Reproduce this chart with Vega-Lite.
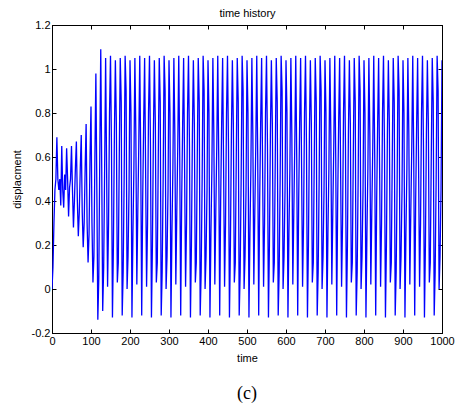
{
"$schema": "https://vega.github.io/schema/vega-lite/v6.json",
"width": 390, "height": 308,
"autosize": {"type": "none"},
"padding": {"left": 52, "top": 25, "right": 13, "bottom": 77},
"background": "white",
"config": {
 "view": {"stroke": "black", "strokeWidth": 1},
 "axis": {"grid": false, "domainColor": "black", "tickColor": "black", "labelColor": "black", "titleColor": "black",
  "labelFont": "Liberation Sans", "labelFontSize": 11, "titleFont": "Liberation Sans", "titleFontSize": 11, "titleFontWeight": "normal",
  "tickSize": -4, "labelFlush": false, "labelOverlap": false}
},
"title": {"text": "(c)", "orient": "bottom", "font": "Liberation Serif", "fontSize": 18, "fontWeight": "normal", "color": "black", "offset": 22},
"data": {"values": [
{"t":0,"y":0},{"t":2.5,"y":0.1},{"t":5,"y":0.3},{"t":7.5,"y":0.45},{"t":10,"y":0.5},{"t":12.5,"y":0.69},{"t":15,"y":0.5},{"t":17.5,"y":0.45},{"t":20,"y":0.5},{"t":22.5,"y":0.38},
{"t":25,"y":0.65},{"t":27.5,"y":0.45},{"t":30,"y":0.37},{"t":32.5,"y":0.52},{"t":35,"y":0.45},{"t":37.5,"y":0.64},{"t":40,"y":0.5},{"t":42.5,"y":0.33},{"t":45,"y":0.46},{"t":47.5,"y":0.5},
{"t":50,"y":0.65},{"t":52.5,"y":0.45},{"t":55,"y":0.28},{"t":57.5,"y":0.4},{"t":60,"y":0.55},{"t":62.5,"y":0.67},{"t":65,"y":0.4},{"t":67.5,"y":0.24},{"t":70,"y":0.35},{"t":72.5,"y":0.55},
{"t":75,"y":0.7},{"t":77.5,"y":0.35},{"t":80,"y":0.19},{"t":82.5,"y":0.3},{"t":85,"y":0.55},{"t":87.5,"y":0.75},{"t":90,"y":0.3},{"t":92.5,"y":0.12},{"t":95,"y":0.25},{"t":97.5,"y":0.6},
{"t":100,"y":0.83},{"t":102.5,"y":0.3},{"t":105,"y":0.03},{"t":107.5,"y":0.15},{"t":110,"y":0.6},{"t":112.5,"y":0.98},{"t":115,"y":0.45},{"t":117.5,"y":-0.14},{"t":120,"y":0.05},{"t":122.5,"y":0.6},
{"t":125,"y":1.09},{"t":127.5,"y":0.55},{"t":130,"y":-0.1},{"t":132.5,"y":0.1},{"t":135,"y":0.55},
{"t":137.5,"y":1.05},{"t":140,"y":0.55},{"t":142.5,"y":0.01},{"t":145,"y":0.3},{"t":147.5,"y":0.8},{"t":150,"y":1.06},{"t":152.5,"y":0.65},{"t":155,"y":-0.13},{"t":157.5,"y":0.2},{"t":160,"y":0.7},
{"t":162.5,"y":1.04},{"t":165,"y":0.75},{"t":167.5,"y":0.03},{"t":170,"y":0.12},{"t":172.5,"y":0.6},{"t":175,"y":1.05},{"t":177.5,"y":0.85},{"t":180,"y":-0.12},{"t":182.5,"y":0.08},{"t":185,"y":0.5},
{"t":187.5,"y":1.06},{"t":190,"y":0.9},{"t":192.5,"y":0},{"t":195,"y":0.15},{"t":197.5,"y":0.45},{"t":200,"y":1.04},{"t":202.5,"y":0.8},{"t":205,"y":-0.13},{"t":207.5,"y":0.25},{"t":210,"y":0.55},
{"t":212.5,"y":1.05},{"t":215,"y":0.7},{"t":217.5,"y":0.02},{"t":220,"y":0.35},{"t":222.5,"y":0.65},{"t":225,"y":1.06},{"t":227.5,"y":0.6},{"t":230,"y":-0.12},{"t":232.5,"y":0.4},{"t":235,"y":0.75},
{"t":237.5,"y":1.05},{"t":240,"y":0.55},{"t":242.5,"y":0.01},{"t":245,"y":0.3},{"t":247.5,"y":0.8},{"t":250,"y":1.06},{"t":252.5,"y":0.65},{"t":255,"y":-0.13},{"t":257.5,"y":0.2},{"t":260,"y":0.7},
{"t":262.5,"y":1.04},{"t":265,"y":0.75},{"t":267.5,"y":0.03},{"t":270,"y":0.12},{"t":272.5,"y":0.6},{"t":275,"y":1.05},{"t":277.5,"y":0.85},{"t":280,"y":-0.12},{"t":282.5,"y":0.08},{"t":285,"y":0.5},
{"t":287.5,"y":1.06},{"t":290,"y":0.9},{"t":292.5,"y":0},{"t":295,"y":0.15},{"t":297.5,"y":0.45},{"t":300,"y":1.04},{"t":302.5,"y":0.8},{"t":305,"y":-0.13},{"t":307.5,"y":0.25},{"t":310,"y":0.55},
{"t":312.5,"y":1.05},{"t":315,"y":0.7},{"t":317.5,"y":0.02},{"t":320,"y":0.35},{"t":322.5,"y":0.65},{"t":325,"y":1.06},{"t":327.5,"y":0.6},{"t":330,"y":-0.12},{"t":332.5,"y":0.4},{"t":335,"y":0.75},
{"t":337.5,"y":1.05},{"t":340,"y":0.55},{"t":342.5,"y":0.01},{"t":345,"y":0.3},{"t":347.5,"y":0.8},{"t":350,"y":1.06},{"t":352.5,"y":0.65},{"t":355,"y":-0.13},{"t":357.5,"y":0.2},{"t":360,"y":0.7},
{"t":362.5,"y":1.04},{"t":365,"y":0.75},{"t":367.5,"y":0.03},{"t":370,"y":0.12},{"t":372.5,"y":0.6},{"t":375,"y":1.05},{"t":377.5,"y":0.85},{"t":380,"y":-0.12},{"t":382.5,"y":0.08},{"t":385,"y":0.5},
{"t":387.5,"y":1.06},{"t":390,"y":0.9},{"t":392.5,"y":0},{"t":395,"y":0.15},{"t":397.5,"y":0.45},{"t":400,"y":1.04},{"t":402.5,"y":0.8},{"t":405,"y":-0.13},{"t":407.5,"y":0.25},{"t":410,"y":0.55},
{"t":412.5,"y":1.05},{"t":415,"y":0.7},{"t":417.5,"y":0.02},{"t":420,"y":0.35},{"t":422.5,"y":0.65},{"t":425,"y":1.06},{"t":427.5,"y":0.6},{"t":430,"y":-0.12},{"t":432.5,"y":0.4},{"t":435,"y":0.75},
{"t":437.5,"y":1.05},{"t":440,"y":0.55},{"t":442.5,"y":0.01},{"t":445,"y":0.3},{"t":447.5,"y":0.8},{"t":450,"y":1.06},{"t":452.5,"y":0.65},{"t":455,"y":-0.13},{"t":457.5,"y":0.2},{"t":460,"y":0.7},
{"t":462.5,"y":1.04},{"t":465,"y":0.75},{"t":467.5,"y":0.03},{"t":470,"y":0.12},{"t":472.5,"y":0.6},{"t":475,"y":1.05},{"t":477.5,"y":0.85},{"t":480,"y":-0.12},{"t":482.5,"y":0.08},{"t":485,"y":0.5},
{"t":487.5,"y":1.06},{"t":490,"y":0.9},{"t":492.5,"y":0},{"t":495,"y":0.15},{"t":497.5,"y":0.45},{"t":500,"y":1.04},{"t":502.5,"y":0.8},{"t":505,"y":-0.13},{"t":507.5,"y":0.25},{"t":510,"y":0.55},
{"t":512.5,"y":1.05},{"t":515,"y":0.7},{"t":517.5,"y":0.02},{"t":520,"y":0.35},{"t":522.5,"y":0.65},{"t":525,"y":1.06},{"t":527.5,"y":0.6},{"t":530,"y":-0.12},{"t":532.5,"y":0.4},{"t":535,"y":0.75},
{"t":537.5,"y":1.05},{"t":540,"y":0.55},{"t":542.5,"y":0.01},{"t":545,"y":0.3},{"t":547.5,"y":0.8},{"t":550,"y":1.06},{"t":552.5,"y":0.65},{"t":555,"y":-0.13},{"t":557.5,"y":0.2},{"t":560,"y":0.7},
{"t":562.5,"y":1.04},{"t":565,"y":0.75},{"t":567.5,"y":0.03},{"t":570,"y":0.12},{"t":572.5,"y":0.6},{"t":575,"y":1.05},{"t":577.5,"y":0.85},{"t":580,"y":-0.12},{"t":582.5,"y":0.08},{"t":585,"y":0.5},
{"t":587.5,"y":1.06},{"t":590,"y":0.9},{"t":592.5,"y":0},{"t":595,"y":0.15},{"t":597.5,"y":0.45},{"t":600,"y":1.04},{"t":602.5,"y":0.8},{"t":605,"y":-0.13},{"t":607.5,"y":0.25},{"t":610,"y":0.55},
{"t":612.5,"y":1.05},{"t":615,"y":0.7},{"t":617.5,"y":0.02},{"t":620,"y":0.35},{"t":622.5,"y":0.65},{"t":625,"y":1.06},{"t":627.5,"y":0.6},{"t":630,"y":-0.12},{"t":632.5,"y":0.4},{"t":635,"y":0.75},
{"t":637.5,"y":1.05},{"t":640,"y":0.55},{"t":642.5,"y":0.01},{"t":645,"y":0.3},{"t":647.5,"y":0.8},{"t":650,"y":1.06},{"t":652.5,"y":0.65},{"t":655,"y":-0.13},{"t":657.5,"y":0.2},{"t":660,"y":0.7},
{"t":662.5,"y":1.04},{"t":665,"y":0.75},{"t":667.5,"y":0.03},{"t":670,"y":0.12},{"t":672.5,"y":0.6},{"t":675,"y":1.05},{"t":677.5,"y":0.85},{"t":680,"y":-0.12},{"t":682.5,"y":0.08},{"t":685,"y":0.5},
{"t":687.5,"y":1.06},{"t":690,"y":0.9},{"t":692.5,"y":0},{"t":695,"y":0.15},{"t":697.5,"y":0.45},{"t":700,"y":1.04},{"t":702.5,"y":0.8},{"t":705,"y":-0.13},{"t":707.5,"y":0.25},{"t":710,"y":0.55},
{"t":712.5,"y":1.05},{"t":715,"y":0.7},{"t":717.5,"y":0.02},{"t":720,"y":0.35},{"t":722.5,"y":0.65},{"t":725,"y":1.06},{"t":727.5,"y":0.6},{"t":730,"y":-0.12},{"t":732.5,"y":0.4},{"t":735,"y":0.75},
{"t":737.5,"y":1.05},{"t":740,"y":0.55},{"t":742.5,"y":0.01},{"t":745,"y":0.3},{"t":747.5,"y":0.8},{"t":750,"y":1.06},{"t":752.5,"y":0.65},{"t":755,"y":-0.13},{"t":757.5,"y":0.2},{"t":760,"y":0.7},
{"t":762.5,"y":1.04},{"t":765,"y":0.75},{"t":767.5,"y":0.03},{"t":770,"y":0.12},{"t":772.5,"y":0.6},{"t":775,"y":1.05},{"t":777.5,"y":0.85},{"t":780,"y":-0.12},{"t":782.5,"y":0.08},{"t":785,"y":0.5},
{"t":787.5,"y":1.06},{"t":790,"y":0.9},{"t":792.5,"y":0},{"t":795,"y":0.15},{"t":797.5,"y":0.45},{"t":800,"y":1.04},{"t":802.5,"y":0.8},{"t":805,"y":-0.13},{"t":807.5,"y":0.25},{"t":810,"y":0.55},
{"t":812.5,"y":1.05},{"t":815,"y":0.7},{"t":817.5,"y":0.02},{"t":820,"y":0.35},{"t":822.5,"y":0.65},{"t":825,"y":1.06},{"t":827.5,"y":0.6},{"t":830,"y":-0.12},{"t":832.5,"y":0.4},{"t":835,"y":0.75},
{"t":837.5,"y":1.05},{"t":840,"y":0.55},{"t":842.5,"y":0.01},{"t":845,"y":0.3},{"t":847.5,"y":0.8},{"t":850,"y":1.06},{"t":852.5,"y":0.65},{"t":855,"y":-0.13},{"t":857.5,"y":0.2},{"t":860,"y":0.7},
{"t":862.5,"y":1.04},{"t":865,"y":0.75},{"t":867.5,"y":0.03},{"t":870,"y":0.12},{"t":872.5,"y":0.6},{"t":875,"y":1.05},{"t":877.5,"y":0.85},{"t":880,"y":-0.12},{"t":882.5,"y":0.08},{"t":885,"y":0.5},
{"t":887.5,"y":1.06},{"t":890,"y":0.9},{"t":892.5,"y":0},{"t":895,"y":0.15},{"t":897.5,"y":0.45},{"t":900,"y":1.04},{"t":902.5,"y":0.8},{"t":905,"y":-0.13},{"t":907.5,"y":0.25},{"t":910,"y":0.55},
{"t":912.5,"y":1.05},{"t":915,"y":0.7},{"t":917.5,"y":0.02},{"t":920,"y":0.35},{"t":922.5,"y":0.65},{"t":925,"y":1.06},{"t":927.5,"y":0.6},{"t":930,"y":-0.12},{"t":932.5,"y":0.4},{"t":935,"y":0.75},
{"t":937.5,"y":1.05},{"t":940,"y":0.55},{"t":942.5,"y":0.01},{"t":945,"y":0.3},{"t":947.5,"y":0.8},{"t":950,"y":1.06},{"t":952.5,"y":0.65},{"t":955,"y":-0.13},{"t":957.5,"y":0.2},{"t":960,"y":0.7},
{"t":962.5,"y":1.04},{"t":965,"y":0.75},{"t":967.5,"y":0.03},{"t":970,"y":0.12},{"t":972.5,"y":0.6},{"t":975,"y":1.05},{"t":977.5,"y":0.85},{"t":980,"y":-0.12},{"t":982.5,"y":0.08},{"t":985,"y":0.5},
{"t":987.5,"y":1.06},{"t":990,"y":0.9},{"t":992.5,"y":0},{"t":995,"y":0.15},{"t":997.5,"y":0.45},{"t":1000,"y":1.04}
]},
"layer": [
 {"mark": {"type": "line", "color": "#0000ff", "strokeWidth": 1.3, "clip": true},
  "encoding": {
   "x": {"field": "t", "type": "quantitative", "scale": {"domain": [0, 1000], "nice": false},
     "axis": {"orient": "bottom", "values": [0,100,200,300,400,500,600,700,800,900,1000], "format": "d", "title": "time", "labelPadding": 6, "titlePadding": 6}},
   "y": {"field": "y", "type": "quantitative", "scale": {"domain": [-0.2, 1.2], "nice": false, "zero": false},
     "axis": {"orient": "left", "values": [-0.2,0,0.2,0.4,0.6,0.8,1,1.2], "format": ".1~f", "labelExpr": "replace(datum.label, '\u2212', '-')", "title": "displacment", "labelPadding": 6, "titlePadding": 9}}
  }},
 {"mark": {"type": "line", "opacity": 0},
  "encoding": {
   "x": {"field": "t", "type": "quantitative", "scale": {"domain": [0, 1000], "nice": false},
     "axis": {"orient": "top", "values": [0,100,200,300,400,500,600,700,800,900,1000], "labels": false, "title": "time history", "titlePadding": 6}},
   "y": {"field": "y", "type": "quantitative", "scale": {"domain": [-0.2, 1.2], "nice": false, "zero": false},
     "axis": {"orient": "right", "values": [-0.2,0,0.2,0.4,0.6,0.8,1,1.2], "labels": false, "title": null}}
  }}
],
"resolve": {"axis": {"x": "independent", "y": "independent"}}
}
